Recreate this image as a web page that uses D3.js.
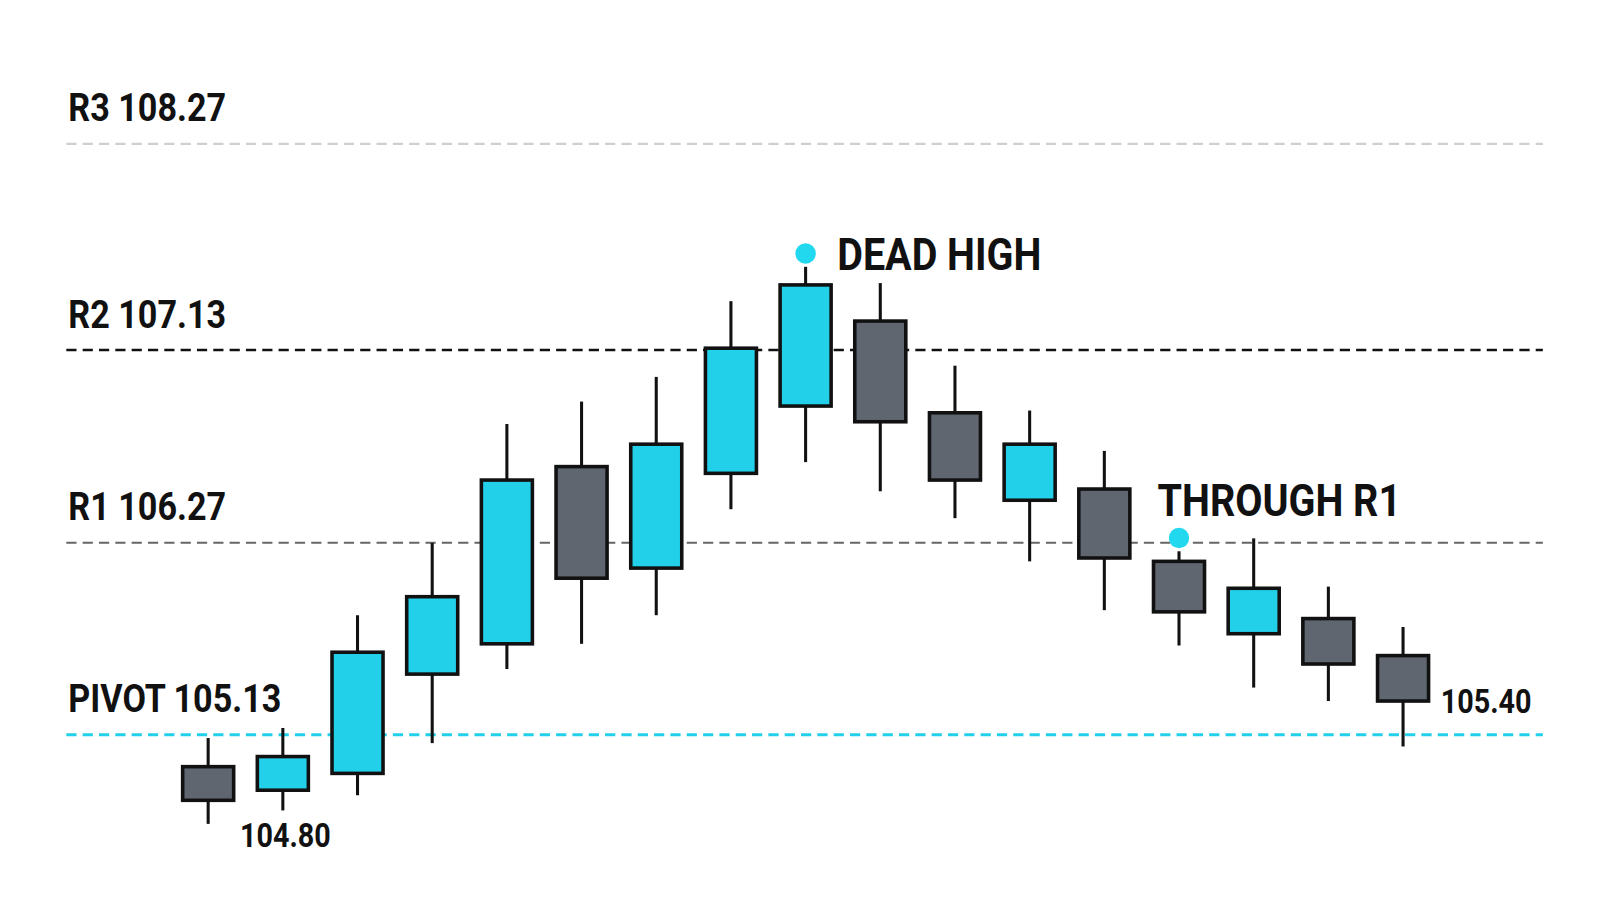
<!DOCTYPE html>
<html><head><meta charset="utf-8">
<script src="https://cdn.jsdelivr.net/npm/d3@7"></script>
<style>body{margin:0;background:#fff}svg{display:block}</style></head>
<body><svg id="c" width="1600" height="914"></svg>
<script>
const levelNames = ["PIVOT","R1","R2","R3"];
const levelValues = [105.13,106.27,107.13,108.27];
const opens  = [104.94,104.80,104.90,105.49,105.67,106.61,106.12,106.58,106.88,107.29,106.85,106.46,106.51,106.16,105.73,105.82,105.60];
const closes = [104.74,105.00,105.62,105.95,106.55,106.06,106.71,107.14,107.49,106.81,106.55,106.71,106.18,105.86,106.00,105.55,105.33];
const highs  = [105.11,105.17,105.84,106.27,106.80,106.90,107.01,107.40,107.59,107.50,107.06,106.86,106.68,106.22,106.29,106.01,105.77];
const lows   = [104.60,104.68,104.77,105.08,105.52,105.67,105.84,106.42,106.63,106.50,106.38,106.16,105.87,105.66,105.41,105.33,105.06];
const annotations = [{i:8,text:"DEAD HIGH"},{i:13,text:"THROUGH R1"}];
const priceLabels = [{i:1,text:"104.80"},{i:16,text:"105.40"}];

const svg = d3.select("#c");
const root = svg.append("g").attr("transform","scale(1.0204)");
const y = d3.scaleLinear().domain(levelValues).range([720,532,343,141]);
const x = d3.scaleLinear().domain([0,16]).range([204,1375]);
const font = "'Roboto','Liberation Sans',sans-serif";
const lineStyles = {PIVOT:["#22d0ea",3],R1:["#666",2],R2:["#111",2.5],R3:["#cfcfcf",2]};

function label(tx,ty,str,size){
  root.append("text").attr("transform",`translate(${tx},${ty}) scale(0.88,1)`).text(str)
    .attr("font-family",font).attr("font-weight","bold").attr("font-size",size).attr("fill","#111");
}

levelNames.forEach((n,k)=>{
  const v = levelValues[k];
  root.append("line").attr("x1",65).attr("x2",1512).attr("y1",y(v)).attr("y2",y(v))
    .attr("stroke",lineStyles[n][0]).attr("stroke-width",lineStyles[n][1]).attr("stroke-dasharray","10,6");
  label(67,y(v)-22,n+" "+v.toFixed(2),38);
});

const idx = d3.range(opens.length);
const g = root.append("g");
idx.forEach(i=>{
  const up = closes[i]>=opens[i];
  g.append("line").attr("x1",x(i)).attr("x2",x(i)).attr("y1",y(highs[i])).attr("y2",y(lows[i]))
    .attr("stroke","#111").attr("stroke-width",3);
  const t = y(Math.max(opens[i],closes[i])), b = y(Math.min(opens[i],closes[i]));
  g.append("rect").attr("x",x(i)-25).attr("y",t).attr("width",50).attr("height",b-t)
    .attr("fill",up?"#22d0ea":"#5f6670").attr("stroke","#111").attr("stroke-width",3.5);
});

annotations.forEach(a=>{
  const cy = y(highs[a.i])-13;
  root.append("circle").attr("cx",x(a.i)).attr("cy",cy).attr("r",10).attr("fill","#22d8ef");
  const ty = a.i===8 ? cy+16 : cy-22;
  const tx = a.i===8 ? x(a.i)+31 : x(a.i)-21;
  label(tx,ty,a.text,44);
});
priceLabels.forEach(p=>{
  const px = p.i===1 ? x(p.i)-42 : x(p.i)+37;
  const py = p.i===1 ? y(lows[p.i])+36 : y(closes[p.i])+12;
  label(px,py,p.text,32);
});
</script></body></html>
